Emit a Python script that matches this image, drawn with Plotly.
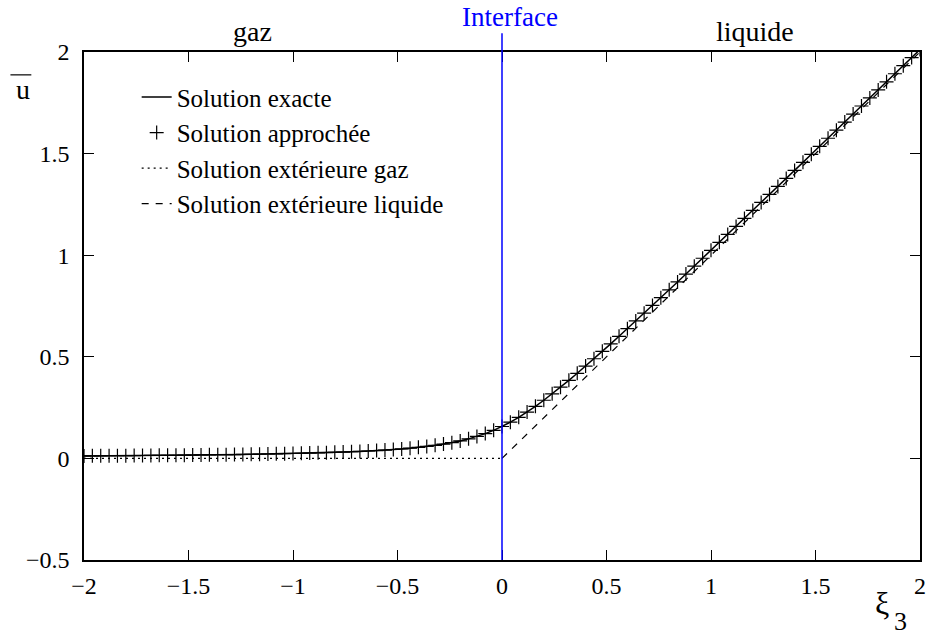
import plotly.graph_objects as go

# ---- data ----
xi = [-2.00, -1.96, -1.92, -1.88, -1.84, -1.80, -1.76, -1.72, -1.68, -1.64,
      -1.60, -1.56, -1.52, -1.48, -1.44, -1.40, -1.36, -1.32, -1.28, -1.24,
      -1.20, -1.16, -1.12, -1.08, -1.04, -1.00, -0.96, -0.92, -0.88, -0.84,
      -0.80, -0.76, -0.72, -0.68, -0.64, -0.60, -0.56, -0.52, -0.48, -0.44,
      -0.40, -0.36, -0.32, -0.28, -0.24, -0.20, -0.16, -0.12, -0.08, -0.04,
      0.00,
      0.04, 0.08, 0.12, 0.16, 0.20, 0.24, 0.28, 0.32, 0.36, 0.40,
      0.44, 0.48, 0.52, 0.56, 0.60, 0.64, 0.68, 0.72, 0.76, 0.80,
      0.84, 0.88, 0.92, 0.96, 1.00, 1.04, 1.08, 1.12, 1.16, 1.20,
      1.24, 1.28, 1.32, 1.36, 1.40, 1.44, 1.48, 1.52, 1.56, 1.60,
      1.64, 1.68, 1.72, 1.76, 1.80, 1.84, 1.88, 1.92, 1.96, 2.00]

u_exact = [0.0123, 0.0125, 0.0128, 0.0130, 0.0133, 0.0136, 0.0139, 0.0142, 0.0145, 0.0149,
           0.0153, 0.0156, 0.0160, 0.0165, 0.0169, 0.0174, 0.0179, 0.0184, 0.0190, 0.0196,
           0.0202, 0.0209, 0.0216, 0.0224, 0.0232, 0.0241, 0.0250, 0.0261, 0.0272, 0.0284,
           0.0297, 0.0312, 0.0327, 0.0345, 0.0364, 0.0386, 0.0410, 0.0437, 0.0468, 0.0503,
           0.0543, 0.0589, 0.0642, 0.0704, 0.0776, 0.0861, 0.0962, 0.1081, 0.1220, 0.1383,
           0.1570,
           0.1783, 0.2020, 0.2281, 0.2562, 0.2861, 0.3176, 0.3504, 0.3842, 0.4189, 0.4543,
           0.4903, 0.5268, 0.5637, 0.6010, 0.6386, 0.6764, 0.7145, 0.7527, 0.7912, 0.8297,
           0.8684, 0.9072, 0.9461, 0.9850, 1.0241, 1.0632, 1.1024, 1.1416, 1.1809, 1.2202,
           1.2596, 1.2990, 1.3384, 1.3779, 1.4174, 1.4569, 1.4965, 1.5360, 1.5756, 1.6153,
           1.6549, 1.6945, 1.7342, 1.7739, 1.8136, 1.8533, 1.8930, 1.9328, 1.9725, 2.0123]

u_approx = list(u_exact)

xi_gaz = [-2.0, 0.0]
u_gaz = [0.0, 0.0]

xi_liq = [0.0, 2.0]
u_liq = [0.0, 2.0]

x_ticks = [-2, -1.5, -1, -0.5, 0, 0.5, 1, 1.5, 2]
y_ticks = [-0.5, 0, 0.5, 1, 1.5, 2]
x_range = [-2, 2]
y_range = [-0.5, 2]
interface_x = 0.0

FONT = "'Liberation Serif', 'Times New Roman', Times, 'DejaVu Serif', serif"

fig = go.Figure()

fig.add_trace(go.Scatter(
    x=xi, y=u_exact, mode="lines", name="Solution exacte",
    legendgroup="a", line=dict(color="black", width=1.5)))

fig.add_trace(go.Scatter(
    x=xi, y=u_approx, mode="markers", name="Solution approchée",
    legendgroup="b",
    marker=dict(symbol="cross-thin", size=10, color="black",
                line=dict(color="black", width=1.2))))

fig.add_trace(go.Scatter(
    x=xi_gaz, y=u_gaz, mode="lines", name="Solution extérieure gaz",
    legendgroup="c", line=dict(color="black", width=1.2, dash="2px,4px")))

fig.add_trace(go.Scatter(
    x=xi_liq, y=u_liq, mode="lines", name="Solution extérieure liquide",
    legendgroup="d", line=dict(color="black", width=1.2, dash="7px,7px")))

# interface line (extends a bit above the frame)
fig.add_shape(type="line", xref="x", yref="paper",
              x0=interface_x, x1=interface_x, y0=0, y1=1.037,
              line=dict(color="blue", width=1.5), layer="above")

axis_common = dict(
    showline=True, linecolor="black", linewidth=1.5, mirror="ticks",
    ticks="inside", ticklen=10, tickwidth=1.3, tickcolor="black",
    showgrid=False, zeroline=False,
    tickfont=dict(family=FONT, size=24, color="black"),
)

fig.update_xaxes(range=x_range, tickvals=x_ticks,
                 ticktext=[("−" if v < 0 else "") + f"{abs(v):g}" for v in x_ticks],
                 ticklabelstandoff=3, **axis_common)
fig.update_yaxes(range=y_range, tickvals=y_ticks,
                 ticktext=[("−" if v < 0 else "") + f"{abs(v):g}" for v in y_ticks],
                 ticklabelstandoff=8, **axis_common)

annotations = [
    dict(text="gaz", x=0.201, y=1.04, xref="paper", yref="paper",
         showarrow=False, font=dict(family=FONT, size=28, color="black"),
         xanchor="center", yanchor="middle"),
    dict(text="liquide", x=0.803, y=1.04, xref="paper", yref="paper",
         showarrow=False, font=dict(family=FONT, size=28, color="black"),
         xanchor="center", yanchor="middle"),
    dict(text="Interface", x=0.51, y=1.068, xref="paper", yref="paper",
         showarrow=False, font=dict(family=FONT, size=27, color="blue"),
         xanchor="center", yanchor="middle"),
    dict(text="u", x=-0.073, y=0.927, xref="paper", yref="paper",
         showarrow=False, font=dict(family=FONT, size=28, color="black"),
         xanchor="center", yanchor="middle"),
    dict(text="ξ", x=0.955, y=-0.085, xref="paper", yref="paper",
         showarrow=False, font=dict(family=FONT, size=32, color="black"),
         xanchor="center", yanchor="middle"),
    dict(text="3", x=0.977, y=-0.122, xref="paper", yref="paper",
         showarrow=False, font=dict(family=FONT, size=26, color="black"),
         xanchor="center", yanchor="middle"),
]
fig.update_layout(annotations=annotations)

# overline over the "u" label
fig.add_shape(type="line", xref="paper", yref="paper",
              x0=-0.088, x1=-0.063, y0=0.955, y1=0.955,
              line=dict(color="black", width=1.2))

fig.update_layout(
    width=932, height=637,
    margin=dict(l=84, r=6, t=52, b=77, pad=0),
    paper_bgcolor="white", plot_bgcolor="white",
    font=dict(family=FONT, color="black"),
    legend=dict(x=0.063, y=0.956, xanchor="left", yanchor="top",
                bgcolor="rgba(0,0,0,0)", borderwidth=0,
                font=dict(family=FONT, size=25, color="black"),
                tracegroupgap=0, itemwidth=30),
    showlegend=True,
)

fig.write_html("out.html")
